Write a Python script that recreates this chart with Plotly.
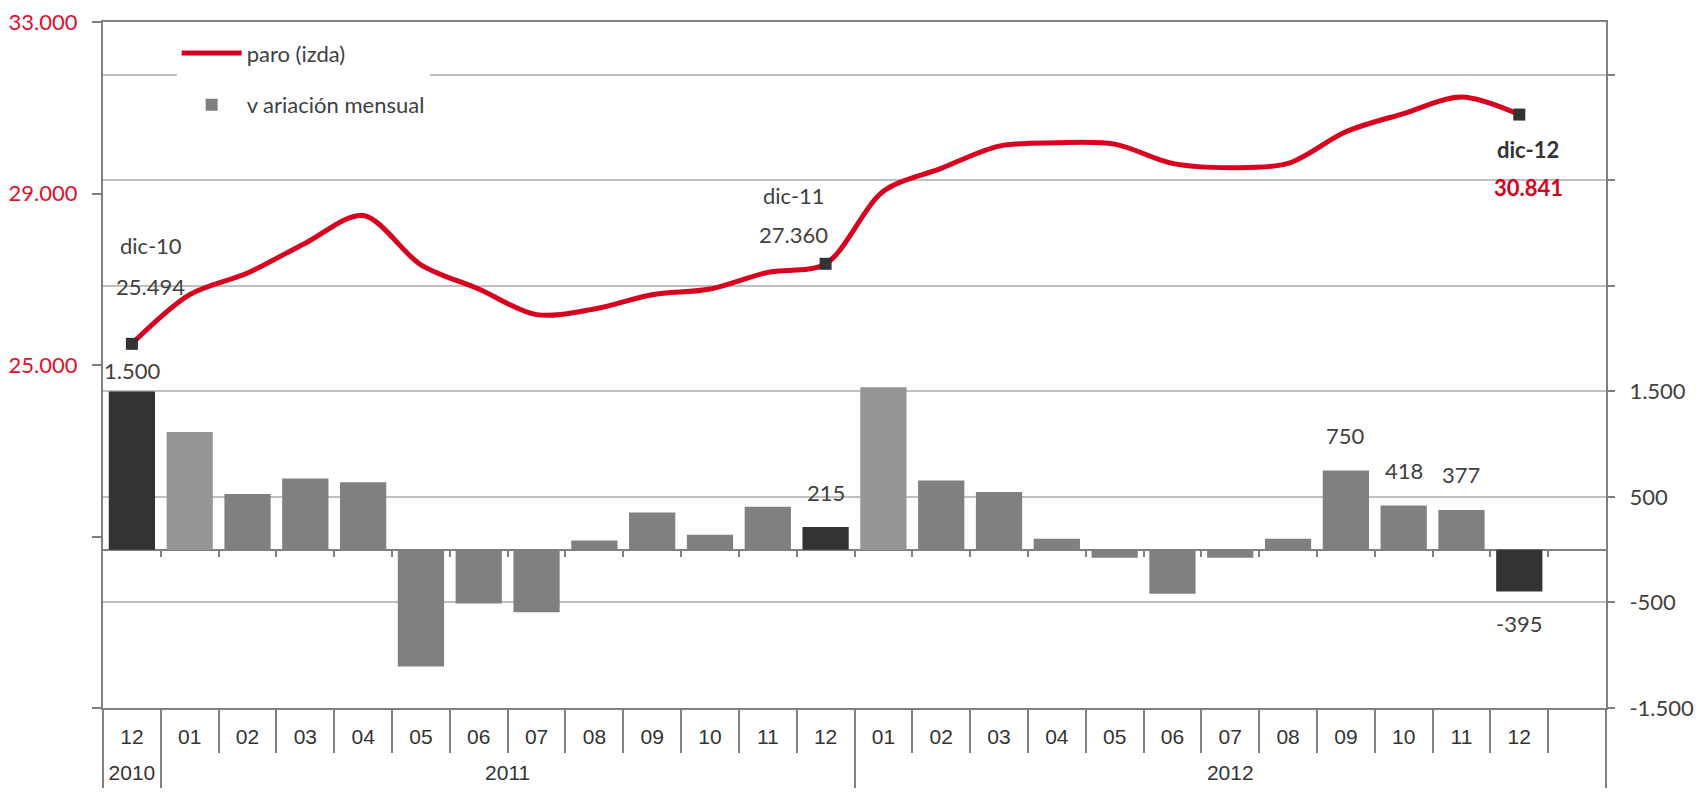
import plotly.graph_objects as go

# ---------------- data ----------------
years = ["2010"] + ["2011"] * 12 + ["2012"] * 12
months = ["12", "01", "02", "03", "04", "05", "06", "07", "08", "09", "10", "11", "12",
          "01", "02", "03", "04", "05", "06", "07", "08", "09", "10", "11", "12"]
paro = [25494, 26640, 27144, 27842, 28486, 27337, 26772, 26175, 26307, 26640, 26772, 27161, 27360,
        29051, 29586, 30105, 30183, 30151, 29702, 29602, 29702, 30440, 30865, 31251, 30841]
variacion = [1500, 1116, 527, 675, 638, -1107, -509, -592, 86, 353, 141, 408, 215,
             1540, 656, 546, 104, -77, -417, -77, 104, 750, 418, 377, -395]
bar_label_idx = [0, 12, 21, 22, 23, 24]
hito_names = ["dic-10", "dic-11", "dic-12"]
ticks_left = [17000, 21000, 25000, 29000, 33000]
ticks_left_labeled = [25000, 29000, 33000]
range_left = [17000, 33000]
ticks_right = [-1500, -500, 500, 1500, 2500, 3500, 4500]
ticks_right_labeled = [-1500, -500, 500, 1500]
range_right = [-1500, 5000]
name_line = "paro (izda)"
name_bar = "v ariación mensual"

# ---------------- helpers ----------------
def fmt(v):
    return f"{v:,}".replace(",", ".")

RED = "#D7001E"
RED_TXT = "#E0102C"
GREY_AX = "#808080"
GRID = "#C0C0C0"
TXT = "#404040"
CG = "Lato, 'Open Sans', sans-serif"
TH = "'Liberation Sans', Arial, sans-serif"

periods = [f"{y}-{m}" for y, m in zip(years, months)]
n = len(periods)
nslots = n + 1  # one empty slot at the end
xr = [-0.5, nslots - 0.5]

tone = [0 if m == "12" else (1 if m == "01" else 0.5) for m in months]
dec_idx = [i for i, m in enumerate(months) if m == "12"]

# year groups
groups = []
for i, y in enumerate(years):
    if not groups or groups[-1][0] != y:
        groups.append([y, i, i])
    else:
        groups[-1][2] = i
year_centers, year_bounds = [], []
for gi, (y, f, l) in enumerate(groups):
    start = f - 0.5
    end = (nslots - 0.5) if gi == len(groups) - 1 else l + 0.5
    year_centers.append((start + end) / 2)
    year_bounds.append(start)
year_bounds.append(nslots - 0.5)

fig = go.Figure()
fig.add_trace(go.Bar(
    x=periods, y=variacion, yaxis="y2", name=name_bar,
    marker=dict(color=tone, colorscale=[[0, "#333333"], [0.5, "#808080"], [1, "#969696"]],
                cmin=0, cmax=1, line=dict(width=0)),
    legendrank=2, legendgroup="b", hoverinfo="x+y"))
fig.add_trace(go.Scatter(
    x=periods, y=paro, mode="lines", name=name_line,
    line=dict(color=RED, width=5, shape="spline", smoothing=0.9),
    legendrank=1, legendgroup="a"))
fig.add_trace(go.Scatter(
    x=[periods[i] for i in dec_idx], y=[paro[i] for i in dec_idx], mode="markers",
    marker=dict(symbol="square", size=12, color="#333333"), showlegend=False))

# carrier traces so that the auxiliary axes (ticks / dividers / year labels) are drawn
for xa, ya in [("x2", "y2"), ("x3", "y"), ("x4", "y"), ("x5", "y")]:
    fig.add_trace(go.Scatter(x=[None], y=[None], xaxis=xa, yaxis=ya, mode="markers",
                             showlegend=False, hoverinfo="skip"))

# annotations for December milestones (style offsets)
hito_style = [
    dict(name=(19, 98), val=(19, 57), bold=False),
    dict(name=(-32, 68), val=(-32, 29), bold=False),
    dict(name=(9, -35), val=(9, -73), bold=True),
]
annotations = []
for k, i in enumerate(dec_idx):
    st = hito_style[k]
    bold = st["bold"]
    annotations.append(dict(
        x=i, y=paro[i], xref="x", yref="y", showarrow=False,
        text=(f"<b>{hito_names[k]}</b>" if bold else hito_names[k]),
        xshift=st["name"][0], yshift=st["name"][1],
        font=dict(family=CG, size=22, color="#333333" if bold else TXT)))
    annotations.append(dict(
        x=i, y=paro[i], xref="x", yref="y", showarrow=False,
        text=(f"<b>{fmt(paro[i])}</b>" if bold else fmt(paro[i])),
        xshift=st["val"][0], yshift=st["val"][1],
        font=dict(family=CG, size=22, color=RED if bold else TXT)))

for i in bar_label_idx:
    v = variacion[i]
    ys = (21 if i == 0 else 35) if v >= 0 else -32
    annotations.append(dict(
        x=i, y=v, xref="x", yref="y2", showarrow=False, text=fmt(v),
        yshift=ys, font=dict(family=CG, size=22, color=TXT)))

pos0 = (0 - range_right[0]) / (range_right[1] - range_right[0])

common_x = dict(automargin=False, showgrid=False, zeroline=False, range=xr)
aux_x = dict(common_x, type="linear", overlaying="x", showline=False, tickmode="array")

fig.update_layout(
    width=1690, height=780,
    margin=dict(l=95, r=92, t=14, b=80, autoexpand=False),
    paper_bgcolor="white", plot_bgcolor="white",
    bargap=0.2,
    showlegend=True,
    legend=dict(x=0.049, y=0.985, xanchor="left", yanchor="top", bgcolor="white",
                font=dict(family=CG, size=22, color=TXT), itemwidth=60,
                traceorder="grouped", tracegroupgap=20),
    annotations=annotations,
    xaxis=dict(common_x, type="category", categoryorder="array", categoryarray=periods,
               tickmode="array", tickvals=periods, ticktext=months, ticks="",
               showline=True, linecolor=GREY_AX, linewidth=2, mirror=True,
               ticklabelstandoff=9, ticklabeloverflow="allow",
               tickfont=dict(family=TH, size=21, color="#333333")),
    xaxis2=dict(aux_x, anchor="free", position=pos0, side="bottom",
                tickvals=[i + 0.5 for i in range(n)],
                ticks="outside", ticklen=6, tickwidth=2, tickcolor=GREY_AX,
                showticklabels=False),
    xaxis3=dict(aux_x, anchor="y", side="bottom",
                tickvals=year_centers, ticktext=[g[0] for g in groups],
                ticks="", ticklabelstandoff=50, ticklabeloverflow="allow",
                tickfont=dict(family=TH, size=21, color="#333333")),
    xaxis4=dict(aux_x, anchor="y", side="bottom",
                tickvals=year_bounds, ticks="outside", ticklen=88,
                tickwidth=2, tickcolor=GREY_AX, showticklabels=False),
    xaxis5=dict(aux_x, anchor="y", side="bottom",
                tickvals=[i - 0.5 for i in range(n + 1)], ticks="outside",
                ticklen=44, tickwidth=2, tickcolor=GREY_AX, showticklabels=False),
    yaxis=dict(automargin=False, range=range_left, tickmode="array", tickvals=ticks_left,
               ticktext=[fmt(v) if v in ticks_left_labeled else "" for v in ticks_left],
               ticks="outside", ticklen=9, tickwidth=2, tickcolor=GREY_AX,
               showline=True, linecolor=GREY_AX, linewidth=2, showgrid=False, zeroline=False,
               ticklabelstandoff=10, ticklabeloverflow="allow",
               tickfont=dict(family=CG, size=22, color=RED_TXT)),
    yaxis2=dict(automargin=False, range=range_right, overlaying="y", side="right", anchor="x",
                tickmode="array", tickvals=ticks_right,
                ticktext=[fmt(v) if v in ticks_right_labeled else "" for v in ticks_right],
                ticks="outside", ticklen=7, tickwidth=2, tickcolor=GREY_AX,
                showline=True, linecolor=GREY_AX, linewidth=2,
                showgrid=True, gridcolor=GRID, gridwidth=2,
                zeroline=True, zerolinecolor=GREY_AX, zerolinewidth=2,
                ticklabelstandoff=10, ticklabeloverflow="allow",
                tickfont=dict(family=CG, size=22, color=TXT)),
)

fig.write_html("out.html")
